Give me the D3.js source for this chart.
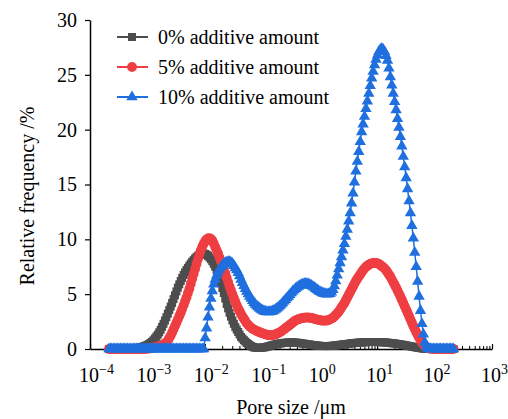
<!DOCTYPE html>
<html>
<head>
<meta charset="utf-8">
<script src="https://cdn.jsdelivr.net/npm/d3@7"></script>
<style>
  body { margin: 0; background: #fff; }
  svg text { font-family: "Liberation Serif", "Times New Roman", Times, serif; fill: #000; }
</style>
</head>
<body>
<div id="chart"></div>
<script>
// pore size given as log10 of the size in µm
var poreSizeExp = [
  -3.670,-3.645,-3.620,-3.595,-3.570,-3.545,-3.520,-3.495,-3.470,-3.445,-3.420,-3.395,-3.370,-3.345,-3.320,-3.295,-3.270,-3.245,-3.220,-3.195,
  -3.170,-3.145,-3.120,-3.095,-3.070,-3.045,-3.020,-2.995,-2.970,-2.945,-2.920,-2.895,-2.870,-2.845,-2.820,-2.795,-2.770,-2.745,-2.720,-2.695,
  -2.670,-2.645,-2.620,-2.595,-2.570,-2.545,-2.520,-2.495,-2.470,-2.445,-2.420,-2.395,-2.370,-2.345,-2.320,-2.295,-2.270,-2.245,-2.220,-2.195,
  -2.170,-2.145,-2.120,-2.095,-2.070,-2.045,-2.020,-1.995,-1.970,-1.945,-1.920,-1.895,-1.870,-1.845,-1.820,-1.795,-1.770,-1.745,-1.720,-1.695,
  -1.670,-1.645,-1.620,-1.595,-1.570,-1.545,-1.520,-1.495,-1.470,-1.445,-1.420,-1.395,-1.370,-1.345,-1.320,-1.295,-1.270,-1.245,-1.220,-1.195,
  -1.170,-1.145,-1.120,-1.095,-1.070,-1.045,-1.020,-0.995,-0.970,-0.945,-0.920,-0.895,-0.870,-0.845,-0.820,-0.795,-0.770,-0.745,-0.720,-0.695,
  -0.670,-0.645,-0.620,-0.595,-0.570,-0.545,-0.520,-0.495,-0.470,-0.445,-0.420,-0.395,-0.370,-0.345,-0.320,-0.295,-0.270,-0.245,-0.220,-0.195,
  -0.170,-0.145,-0.120,-0.095,-0.070,-0.045,-0.020,0.005,0.030,0.055,0.080,0.105,0.130,0.155,0.180,0.205,0.230,0.255,0.280,0.305,
  0.330,0.355,0.380,0.405,0.430,0.455,0.480,0.505,0.530,0.555,0.580,0.605,0.630,0.655,0.680,0.705,0.730,0.755,0.780,0.805,
  0.830,0.855,0.880,0.905,0.930,0.955,0.980,1.005,1.030,1.055,1.080,1.105,1.130,1.155,1.180,1.205,1.230,1.255,1.280,1.305,
  1.330,1.355,1.380,1.405,1.430,1.455,1.480,1.505,1.530,1.555,1.580,1.605,1.630,1.655,1.680,1.705,1.730,1.755,1.780,1.805,
  1.830,1.855,1.880,1.905,1.930,1.955,1.980,2.005,2.030,2.055,2.080,2.105,2.130,2.155,2.180,2.205,2.230,2.255,2.280,2.305,
  2.330
];

var additive0 = [
  0,0,0,0,0,0,0,0,0,0,0,0,0,0,0,0.01,0.02,0.03,0.05,0.07,
  0.1,0.12,0.15,0.18,0.22,0.27,0.32,0.38,0.45,0.55,0.65,0.79,0.95,1.12,1.3,1.52,1.75,2.02,2.3,2.6,
  2.9,3.22,3.55,3.87,4.2,4.55,4.9,5.25,5.6,5.9,6.2,6.48,6.75,6.98,7.2,7.4,7.6,7.78,7.95,8.1,
  8.25,8.38,8.5,8.58,8.65,8.69,8.7,8.67,8.6,8.5,8.35,8.19,8.0,7.76,7.5,7.22,6.9,6.47,6.0,5.55,
  5.1,4.6,4.1,3.7,3.3,2.95,2.6,2.3,2.0,1.77,1.55,1.32,1.1,0.95,0.8,0.67,0.55,0.45,0.35,0.27,
  0.2,0.15,0.12,0.11,0.1,0.11,0.12,0.13,0.15,0.17,0.2,0.24,0.28,0.31,0.35,0.38,0.42,0.45,0.48,0.5,
  0.52,0.54,0.56,0.57,0.58,0.59,0.6,0.6,0.6,0.59,0.58,0.57,0.56,0.54,0.52,0.5,0.48,0.46,0.44,0.42,
  0.4,0.38,0.36,0.34,0.33,0.31,0.3,0.29,0.28,0.27,0.27,0.27,0.27,0.27,0.28,0.29,0.3,0.31,0.33,0.34,
  0.36,0.38,0.4,0.41,0.43,0.44,0.46,0.48,0.5,0.51,0.53,0.54,0.56,0.57,0.58,0.59,0.6,0.61,0.62,0.62,
  0.63,0.63,0.64,0.64,0.64,0.64,0.64,0.63,0.63,0.62,0.62,0.61,0.6,0.59,0.58,0.56,0.55,0.53,0.52,0.5,
  0.48,0.46,0.44,0.42,0.4,0.37,0.35,0.32,0.3,0.27,0.25,0.22,0.2,0.17,0.15,0.12,0.1,0.08,0.06,0.04,
  0.03,0.02,0.01,0.01,0,0,0,0,0,0,0,0,0,0,0,0,0,0,0,0,
  0
];

var additive5 = [
  0,0,0,0,0,0,0,0,0,0,0,0,0,0,0,0,0,0,0,0,
  0,0,0,0,0,0.01,0.02,0.03,0.05,0.07,0.1,0.12,0.15,0.18,0.22,0.26,0.3,0.36,0.42,0.5,
  0.6,0.78,1.0,1.24,1.5,1.8,2.1,2.4,2.7,3.0,3.3,3.65,4.0,4.35,4.7,5.1,5.5,5.95,6.4,6.85,
  7.3,7.75,8.2,8.62,9.0,9.33,9.6,9.83,10.0,10.08,10.1,10.04,9.9,9.62,9.3,9.0,8.7,8.35,8.0,7.65,
  7.3,6.9,6.5,6.1,5.7,5.35,5.0,4.65,4.3,4.0,3.7,3.45,3.2,2.97,2.75,2.55,2.35,2.2,2.05,1.95,
  1.85,1.77,1.7,1.64,1.58,1.53,1.48,1.43,1.38,1.34,1.3,1.28,1.26,1.26,1.27,1.3,1.33,1.39,1.45,1.52,
  1.6,1.7,1.8,1.9,2.0,2.1,2.2,2.31,2.42,2.51,2.6,2.66,2.72,2.76,2.8,2.83,2.85,2.86,2.87,2.86,
  2.85,2.83,2.8,2.76,2.72,2.68,2.65,2.62,2.6,2.59,2.58,2.59,2.6,2.64,2.7,2.77,2.85,2.96,3.1,3.24,
  3.4,3.6,3.8,4.0,4.2,4.45,4.7,4.95,5.2,5.45,5.7,5.95,6.2,6.4,6.6,6.8,7.0,7.18,7.35,7.48,
  7.6,7.68,7.75,7.81,7.85,7.86,7.85,7.81,7.75,7.66,7.55,7.46,7.35,7.18,7.0,6.8,6.6,6.35,6.1,5.85,
  5.6,5.33,5.05,4.78,4.5,4.2,3.9,3.6,3.3,3.0,2.7,2.4,2.1,1.82,1.55,1.3,1.05,0.82,0.6,0.42,
  0.28,0.18,0.1,0.05,0.02,0.01,0,0,0,0,0,0,0,0,0,0,0,0,0,0,
  0
];

var additive10 = [
  0,0,0,0,0,0,0,0,0,0,0,0,0,0,0,0,0,0,0,0,
  0,0,0,0,0,0,0,0,0,0,0,0,0,0,0,0,0,0,0,0,
  0,0,0,0,0,0,0,0,0,0,0,0,0,0,0,0,0,0,0,0,
  0,0,0,0,0,0,0,1.0,1.9,2.9,3.8,4.6,5.3,5.9,6.35,6.7,7.0,7.25,7.45,7.6,
  7.75,7.85,7.9,7.95,7.95,7.88,7.78,7.6,7.4,7.2,6.95,6.65,6.35,6.05,5.78,5.5,5.25,5.02,4.8,4.6,
  4.4,4.22,4.05,3.92,3.8,3.7,3.6,3.52,3.45,3.41,3.38,3.37,3.38,3.41,3.45,3.52,3.6,3.7,3.8,3.92,
  4.05,4.2,4.35,4.5,4.65,4.8,4.95,5.1,5.25,5.38,5.5,5.6,5.7,5.78,5.85,5.9,5.95,5.96,5.95,5.91,
  5.85,5.78,5.7,5.6,5.5,5.4,5.3,5.22,5.15,5.09,5.05,5.02,5.0,5.01,5.05,5.18,5.4,5.75,6.2,6.72,
  7.3,7.85,8.4,9.0,9.6,10.25,10.9,11.65,12.4,13.3,14.2,15.2,16.2,17.1,18.0,18.9,19.8,20.5,21.2,21.9,
  22.6,23.3,24.0,24.7,25.3,25.9,26.4,26.8,27.1,27.3,27.4,27.3,27.1,26.75,26.3,25.6,24.8,24.05,23.3,22.55,
  21.8,21.0,20.2,19.35,18.5,17.55,16.6,15.6,14.6,13.5,12.4,11.25,10.1,8.8,7.5,6.15,4.8,3.5,2.3,1.35,
  0.6,0.25,0.05,0,0,0,0,0,0,0,0,0,0,0,0,0,0,0,0,0,
  0
];

var seriesNames = ["0% additive amount", "5% additive amount", "10% additive amount"];
var seriesColors = ["#4d4d4d", "#ef3e42", "#1f6fdf"];
var seriesSymbols = [d3.symbolSquare, d3.symbolCircle, d3.symbolTriangle];
var symbolSizes = [64, 76, 56];
var seriesValues = [additive0, additive5, additive10];

var xTickExp = [-4, -3, -2, -1, 0, 1, 2, 3];
var yTicks = [0, 5, 10, 15, 20, 25, 30];

var width = 508, height = 419;
var margin = {left: 90, right: 16, top: 20, bottom: 70};
var serif = "'Liberation Serif', 'Times New Roman', Times, serif";

var svg = d3.select("#chart").append("svg")
  .attr("width", width)
  .attr("height", height)
  .attr("font-family", serif);

var x = d3.scaleLog()
  .domain([1e-4, 1e3])
  .range([margin.left, width - margin.right]);

var y = d3.scaleLinear()
  .domain([0, 30])
  .range([height - margin.bottom, margin.top]);

// y axis
var yAxis = svg.append("g")
  .attr("transform", "translate(" + margin.left + ",0)")
  .call(d3.axisLeft(y).tickValues(yTicks).tickSize(5).tickSizeOuter(0).tickPadding(8));
yAxis.attr("font-family", serif).attr("font-size", 20);
yAxis.select(".domain").attr("stroke", "#000").attr("stroke-width", 1.5);
yAxis.selectAll(".tick line").attr("stroke", "#000").attr("stroke-width", 1.2);
yAxis.selectAll(".tick text").attr("fill", "#000");

// x axis minor ticks
var minorTicks = [];
xTickExp.slice(0, -1).forEach(function(e){
  for (var k = 2; k <= 9; k++) minorTicks.push(k * Math.pow(10, e));
});
var xMinor = svg.append("g")
  .attr("transform", "translate(0," + y(0) + ")")
  .call(d3.axisBottom(x).tickValues(minorTicks).tickSize(-3).tickSizeOuter(0).tickFormat(""));
xMinor.select(".domain").remove();
xMinor.selectAll(".tick line").attr("stroke", "#000");

// x axis major ticks
var xAxis = svg.append("g")
  .attr("transform", "translate(0," + y(0) + ")")
  .call(d3.axisBottom(x).tickValues(xTickExp.map(function(e){ return Math.pow(10, e); }))
    .tickSize(-5).tickSizeOuter(0).tickFormat(""));
xAxis.select(".domain").attr("stroke", "#000").attr("stroke-width", 1.5);
xAxis.selectAll(".tick line").attr("stroke", "#000").attr("stroke-width", 1.2);

var xLabels = svg.append("g");
xTickExp.forEach(function(e){
  var t = xLabels.append("text")
    .attr("x", x(Math.pow(10, e)) - 11)
    .attr("y", 382)
    .attr("font-size", 20);
  t.append("tspan").text("10");
  t.append("tspan")
    .attr("dy", -8)
    .attr("font-size", 14)
    .text(e < 0 ? "\u2212" + Math.abs(e) : String(e));
});

// axis titles
svg.append("text")
  .attr("x", (x.range()[0] + x.range()[1]) / 2)
  .attr("y", 414)
  .attr("text-anchor", "middle")
  .attr("font-size", 20)
  .text("Pore size /\u03bcm");

svg.append("text")
  .attr("transform", "translate(34,196) rotate(-90)")
  .attr("text-anchor", "middle")
  .attr("font-size", 20)
  .text("Relative frequency /%");

// series
var line = d3.line()
  .x(function(d){ return x(Math.pow(10, d[0])); })
  .y(function(d){ return y(d[1]); });

seriesValues.forEach(function(vals, s){
  var pts = poreSizeExp.map(function(e, i){ return [e, vals[i]]; });
  var g = svg.append("g");
  g.append("path")
    .datum(pts)
    .attr("fill", "none")
    .attr("stroke", seriesColors[s])
    .attr("stroke-width", 1.5)
    .attr("d", line);
  g.selectAll("path.mark")
    .data(pts)
    .enter().append("path")
    .attr("class", "mark")
    .attr("transform", function(d){ return "translate(" + x(Math.pow(10, d[0])) + "," + y(d[1]) + ")"; })
    .attr("d", d3.symbol().type(seriesSymbols[s]).size(symbolSizes[s]))
    .attr("fill", seriesColors[s]);
});

// legend
var legend = svg.append("g");
seriesNames.forEach(function(name, s){
  var ly = 37 + s * 30;
  legend.append("line")
    .attr("x1", 117).attr("x2", 148)
    .attr("y1", ly).attr("y2", ly)
    .attr("stroke", seriesColors[s])
    .attr("stroke-width", 2);
  legend.append("path")
    .attr("transform", "translate(132," + ly + ")")
    .attr("d", d3.symbol().type(seriesSymbols[s]).size(symbolSizes[s]))
    .attr("fill", seriesColors[s]);
  legend.append("text")
    .attr("x", 158)
    .attr("y", ly + 7)
    .attr("font-size", 20)
    .text(name);
});
</script>
</body>
</html>
